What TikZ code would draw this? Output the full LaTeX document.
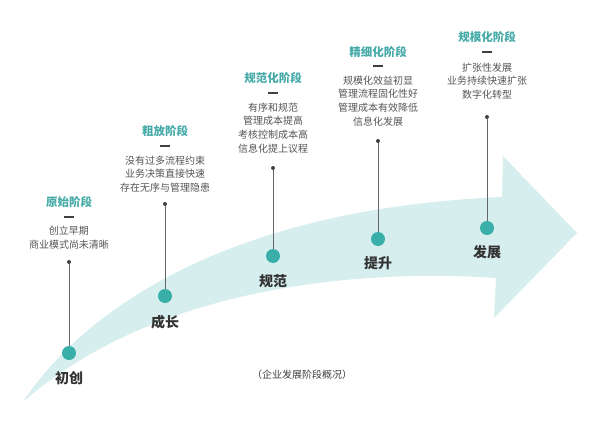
\documentclass[tikz,border=0pt]{standalone}
\usepackage{fontspec}
\setmainfont{Noto Sans CJK SC}
\usetikzlibrary{arrows}

\definecolor{bandfill}{HTML}{D6EEEE}
\definecolor{dotteal}{HTML}{3AAFAA}
\definecolor{titleteal}{HTML}{45AAA8}
\definecolor{textgray}{HTML}{555555}

\begin{document}
\begin{tikzpicture}[x=1pt, y=-1pt,
  stagedot/.style={circle, fill=dotteal, minimum size=14pt, inner sep=0pt},
  pindot/.style={circle, fill=black!75, minimum size=4pt, inner sep=0pt},
  pinline/.style={black!60, line width=1pt},
  stagelabel/.style={font=\fontsize{14}{16}\selectfont\bfseries, text=black!80},
  stagetitle/.style={font=\fontsize{11.5}{13}\selectfont\bfseries, text=titleteal},
  stagedesc/.style={font=\fontsize{10}{13.7}\selectfont, text=textgray, align=center, inner sep=0pt},
  stagebar/.style={black!75, line width=1.6pt}]

\useasboundingbox (0,0) rectangle (600,423);

\fill[bandfill] (23,402) .. controls (70,330) and (200,210) .. (502,197) -- (503,156) -- (577,233) -- (494,318) -- (496,278) .. controls (350,268) and (150,290) .. cycle; %band

\node[stagedot] (ptA) at (69,353) {}; %chuchuang
\node[pindot] (pinA) at (69,262) {};
\draw[pinline] (pinA) -- (ptA);
\node[stagelabel] (labA) at (69,378) {初创};
\node[stagetitle] (ttlA) at (69,202) {原始阶段};
\draw[stagebar] (64,217) -- (74,217);
\node[stagedesc] (txtA) at (69,237.5) {创立早期\\商业模式尚未清晰};

\node[stagedot] (ptB) at (165,296) {}; %chengzhang
\node[pindot] (pinB) at (165,204) {};
\draw[pinline] (pinB) -- (ptB);
\node[stagelabel] (labB) at (165,322) {成长};
\node[stagetitle] (ttlB) at (165,131) {粗放阶段};
\draw[stagebar] (160,146) -- (170,146);
\node[stagedesc] (txtB) at (165,174) {没有过多流程约束\\业务决策直接快速\\存在无序与管理隐患};

\node[stagedot] (ptC) at (273,256) {}; %guifan
\node[pindot] (pinC) at (273,168) {};
\draw[pinline] (pinC) -- (ptC);
\node[stagelabel] (labC) at (273,281) {规范};
\node[stagetitle] (ttlC) at (273,78) {规范化阶段};
\draw[stagebar] (268,93) -- (278,93);
\node[stagedesc] (txtC) at (273,128) {有序和规范\\管理成本提高\\考核控制成本高\\信息化提上议程};

\node[stagedot] (ptD) at (378,239) {}; %tisheng
\node[pindot] (pinD) at (378,141) {};
\draw[pinline] (pinD) -- (ptD);
\node[stagelabel] (labD) at (378,263) {提升};
\node[stagetitle] (ttlD) at (378,52) {精细化阶段};
\draw[stagebar] (373,66) -- (383,66);
\node[stagedesc] (txtD) at (378,101) {规模化效益初显\\管理流程固化性好\\管理成本有效降低\\信息化发展};

\node[stagedot] (ptE) at (487,228) {}; %fazhan
\node[pindot] (pinE) at (487,117) {};
\draw[pinline] (pinE) -- (ptE);
\node[stagelabel] (labE) at (487,252) {发展};
\node[stagetitle] (ttlE) at (487,37) {规模化阶段};
\draw[stagebar] (482,52) -- (492,52);
\node[stagedesc] (txtE) at (487,81) {扩张性发展\\业务持续快速扩张\\数字化转型};

\node[stagedesc, text=black!75] (caption) at (302,375) {（企业发展阶段概况）};

\end{tikzpicture}
\end{document}
